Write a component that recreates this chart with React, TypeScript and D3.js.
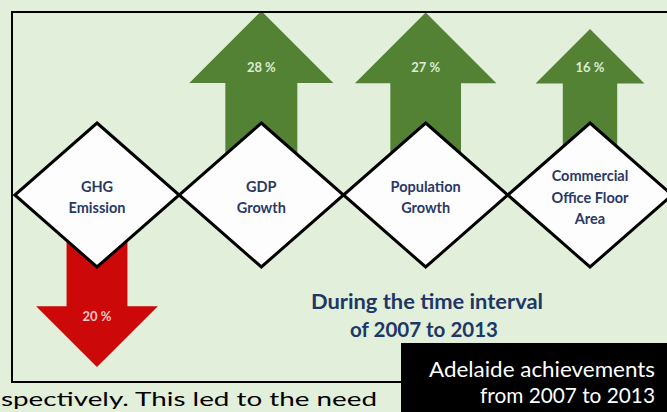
import React from "react";
import * as d3 from "d3";

// Indicators shown in the diamonds, with their change over 2007–2013 (%)
const categories = ["GHG Emission", "GDP Growth", "Population Growth", "Commercial Office Floor Area"];
const labelLines = [["GHG", "Emission"], ["GDP", "Growth"], ["Population", "Growth"], ["Commercial", "Office Floor", "Area"]];
const changes = [-20, 28, 27, 16];
const changeLabels = ["20 %", "28 %", "27 %", "16 %"];

const W = 667;
const H = 412;
const BG = "#e2efda";
const GREEN = "#548235";
const RED = "#cc0808";
const NAVY = "#2a3963";
const FONT = "Lato, 'Open Sans', 'Liberation Sans', sans-serif";

const frame = { x: 12, y: 12, right: 720, bottom: 382 };
const cy = 195; // vertical centre of the diamond row

export default function App() {
  const x = d3.scalePoint<string>().domain(categories).range([97, 590]);
  const halfW = x.step() / 2;
  const halfH = 72;

  // distance from the diamond centre to the arrow tip, and arrow-head half width
  const reach = d3.scaleLinear().domain([16, 28]).range([166, 184]);
  const head = d3.scaleSqrt().domain([0, 28]).range([0, 72]);

  const line = d3.line<[number, number]>();

  const arrows = categories.map((c, i) => {
    const v = changes[i];
    const dir = v >= 0 ? -1 : 1;
    const mag = Math.abs(v);
    const cx = x(c)!;
    const h = head(mag);
    const s = h / 2;
    const tip = cy + dir * reach(mag);
    const base = tip - dir * h;
    const pts: [number, number][] = [
      [cx - s, cy],
      [cx - s, base],
      [cx - h, base],
      [cx, tip],
      [cx + h, base],
      [cx + s, base],
      [cx + s, cy],
    ];
    return {
      key: c,
      d: line(pts)! + "Z",
      fill: v >= 0 ? GREEN : RED,
      label: changeLabels[i],
      lx: cx,
      ly: v >= 0 ? base - 16 : base + 10,
      lfill: v >= 0 ? "#dcebd2" : "#f7c6c6",
    };
  });

  const diamonds = categories.map((c, i) => {
    const cx = x(c)!;
    const pts: [number, number][] = [
      [cx, cy - halfH],
      [cx + halfW, cy],
      [cx, cy + halfH],
      [cx - halfW, cy],
    ];
    return { key: c, cx, d: line(pts)! + "Z", lines: labelLines[i] };
  });

  const lineGap = 21.5;

  return (
    <svg
      width={W}
      height={H}
      style={{ position: "absolute", left: 0, top: 0, display: "block" }}
      fontFamily={FONT}
    >
      <rect x={0} y={0} width={W} height={H} fill={BG} />

      {arrows.map((a) => (
        <path key={a.key} d={a.d} fill={a.fill} />
      ))}

      <rect
        x={frame.x}
        y={frame.y}
        width={frame.right - frame.x}
        height={frame.bottom - frame.y}
        fill="none"
        stroke="#000"
        strokeWidth={2}
      />

      {arrows.map((a) => (
        <text
          key={a.key + "-l"}
          x={a.lx}
          y={a.ly}
          textAnchor="middle"
          dominantBaseline="central"
          fontSize={13}
          fontWeight={700}
          fill={a.lfill}
        >
          {a.label}
        </text>
      ))}

      {diamonds.map((dm) => (
        <g key={dm.key}>
          <path d={dm.d} fill="#fdfdfd" stroke="#000" strokeWidth={3} strokeLinejoin="miter" />
          {dm.lines.map((t, j) => (
            <text
              key={t}
              x={dm.cx}
              y={cy + 2 + (j - (dm.lines.length - 1) / 2) * lineGap}
              textAnchor="middle"
              dominantBaseline="central"
              fontSize={14.5}
              fontWeight={700}
              fill={NAVY}
            >
              {t}
            </text>
          ))}
        </g>
      ))}

      <text x={427} y={309} textAnchor="middle" fontSize={20} fontWeight={700} fill="#203766" textLength={232} lengthAdjust="spacingAndGlyphs">
        During the time interval
      </text>
      <text x={424} y={337} textAnchor="middle" fontSize={20} fontWeight={700} fill="#203766" textLength={148} lengthAdjust="spacingAndGlyphs">
        of 2007 to 2013
      </text>

      <rect x={401} y={343} width={W - 401} height={H - 343} fill="#000" />
      <text x={655} y={377} textAnchor="end" fontSize={21} fill="#fff" textLength={226} lengthAdjust="spacingAndGlyphs">
        Adelaide achievements
      </text>
      <text x={655} y={403} textAnchor="end" fontSize={21} fill="#fff" textLength={175} lengthAdjust="spacingAndGlyphs">
        from 2007 to 2013
      </text>

      <text x={1} y={406} fontSize={20} fill="#000" textLength={376} lengthAdjust="spacingAndGlyphs">
        spectively. This led to the need
      </text>
    </svg>
  );
}
